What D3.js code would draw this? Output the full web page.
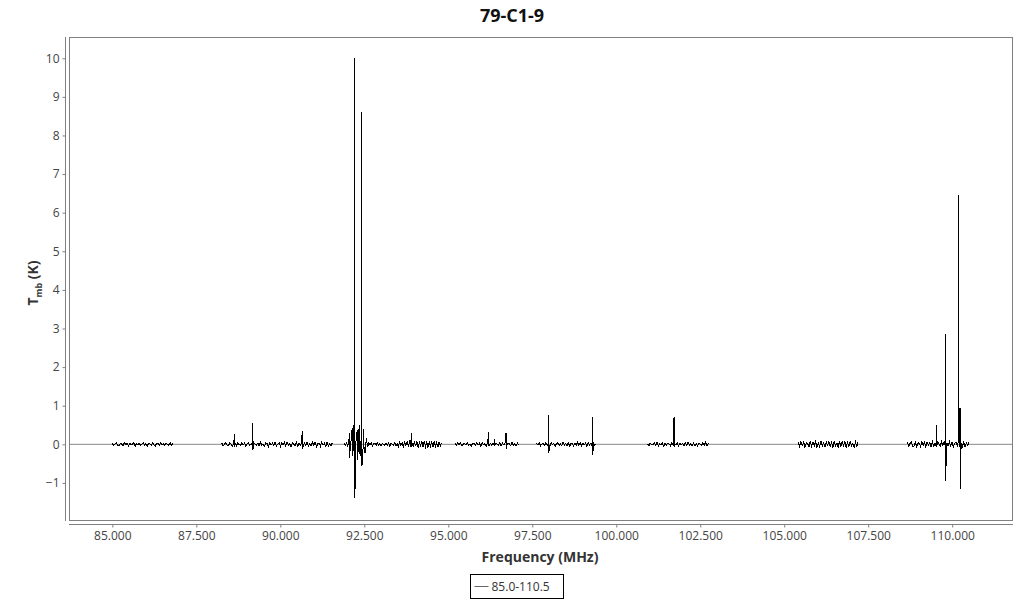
<!DOCTYPE html>
<html>
<head>
<meta charset="utf-8">
<script src="https://cdn.jsdelivr.net/npm/d3@7"></script>
<style>
  body { margin: 0; background: #fff; }
  svg text { font-family: "Open Sans", sans-serif; }
</style>
</head>
<body>
<svg id="chart" width="1024" height="600"></svg>
<script>
// spectrum segments (frequency ranges of each backend window)
const segStart = [85.00, 88.26, 91.90, 95.20, 97.63, 100.93, 105.42, 108.67];
const segEnd   = [86.80, 91.55, 94.80, 97.10, 99.40, 102.74, 107.20, 110.50];

// baseline channel values, one list per segment
const noise = [
  [0.02,-0.03,0.01,0.04,-0.02,-0.04,0.03,0.00,-0.03,0.05,-0.01,0.02,-0.04,0.03,-0.02,0.01,
   0.04,-0.05,0.02,-0.01,0.03,-0.03,0.00,0.04,-0.02,0.02,-0.05,0.03,0.01,-0.03,0.04,-0.02,
   -0.04,0.03,0.02,-0.03,0.05,-0.01,0.02,-0.04,0.03,0.00,-0.02,0.04,-0.03,0.02],
  [0.03,-0.04,0.01,0.05,-0.02,-0.03,0.04,0.00,-0.05,0.03,0.02,-0.04,0.05,-0.01,-0.03,0.04,
   -0.02,0.03,-0.05,0.01,0.04,-0.03,0.02,-0.04,0.05,0.00,-0.02,0.03,-0.04,0.06,-0.03,0.01,
   -0.05,0.04,0.02,-0.06,0.05,-0.02,0.03,-0.04,0.06,-0.05,0.01,0.04,-0.06,0.03,-0.02,0.05,
   -0.04,0.06,-0.03,0.02,-0.06,0.05,0.00,-0.04,0.06,-0.05,0.03,-0.02,0.05,-0.06,0.04,-0.03,
   0.06,-0.05,0.02,-0.04,0.06,-0.03,0.05,-0.06,0.01,0.04,-0.05,0.06,-0.02,0.03,-0.06,0.05,
   -0.04,0.02,-0.03,0.04],
  [0.02,-0.03,0.04,-0.06,0.15,-0.10,0.22,-0.30,0.35,-0.25,0.30,-0.38,0.40,-0.30,0.25,-0.35,
   0.38,-0.20,0.15,-0.08,0.05,-0.02,0.03,-0.04,0.01,0.03,-0.02,0.04,-0.03,0.02,-0.04,0.03,
   0.00,-0.03,0.04,-0.02,0.03,-0.05,0.04,0.01,-0.03,0.05,-0.04,0.02,-0.05,0.06,-0.03,0.04,
   -0.06,0.05,-0.02,0.07,-0.05,0.06,-0.07,0.04,-0.06,0.08,-0.05,0.07,-0.08,0.06,-0.04,0.07,
   -0.07,0.08,-0.06,0.05,-0.08,0.07,-0.05,0.06,-0.07,0.08,-0.06,0.05,-0.07,0.06,-0.05,0.04],
  [0.02,-0.03,0.04,-0.01,0.03,-0.04,0.00,0.03,-0.02,0.04,-0.03,0.01,-0.04,0.03,0.02,-0.03,
   0.04,-0.02,0.03,-0.05,0.04,-0.01,0.02,-0.04,0.05,-0.03,0.03,-0.02,0.04,-0.04,0.02,0.01,
   -0.03,0.05,-0.04,0.03,-0.02,0.04,-0.05,0.03,0.01,-0.04,0.05,-0.03,0.02,-0.04,0.03,-0.02],
  [0.03,-0.02,0.04,-0.04,0.01,0.03,-0.03,0.05,-0.02,0.02,-0.04,0.04,-0.01,0.03,-0.05,0.02,
   0.04,-0.03,0.01,-0.04,0.05,-0.02,0.03,-0.03,0.04,-0.05,0.02,0.01,-0.04,0.03,-0.02,0.05,
   -0.03,0.04,-0.04,0.02,-0.01,0.03,-0.05,0.04,-0.02,0.03,-0.04,0.05,-0.03,0.02],
  [0.02,-0.04,0.03,0.00,-0.02,0.04,-0.03,0.05,-0.04,0.02,-0.01,0.03,-0.05,0.04,-0.02,0.03,
   0.01,-0.04,0.05,-0.03,0.02,-0.02,0.04,-0.05,0.03,-0.01,0.02,-0.04,0.04,-0.03,0.05,-0.02,
   0.01,-0.03,0.04,-0.04,0.02,-0.05,0.03,0.00,-0.03,0.04,-0.02,0.05,-0.04,0.03],
  [0.05,-0.06,0.07,-0.03,0.06,-0.08,0.04,0.02,-0.07,0.08,-0.05,0.06,-0.04,0.07,-0.08,0.03,
   -0.06,0.08,-0.05,0.04,-0.07,0.06,-0.02,0.08,-0.06,0.05,-0.08,0.07,-0.04,0.03,-0.07,0.08,
   -0.05,0.06,-0.03,0.07,-0.08,0.05,-0.06,0.08,-0.04,0.02,-0.07,0.06,-0.05,0.07],
  [0.05,-0.06,0.03,0.07,-0.05,-0.04,0.06,-0.07,0.04,0.02,-0.06,0.07,-0.03,0.05,-0.07,0.06,
   -0.02,0.04,-0.06,0.07,-0.05,0.03,-0.07,0.06,0.01,-0.05,0.07,-0.04,0.06,-0.06,0.04,-0.03,
   0.07,-0.05,0.05,-0.07,0.02,0.06,-0.04,0.07,-0.06,0.03,-0.05,0.06,-0.07,0.04,-0.03,0.05]
];

// emission lines: extra channels (frequency, Tmb) at the spikes
const lineFreq = [88.63, 88.632, 89.18, 89.182, 90.65, 90.652,
  92.05, 92.052, 92.14, 92.142, 92.22, 92.222, 92.30, 92.302, 92.37, 92.372,
  92.43, 92.432, 92.49, 92.492, 93.90, 93.902,
  96.21, 96.212, 96.38, 96.382, 96.72, 96.722,
  97.99, 97.992, 99.30, 99.302, 101.72, 101.722,
  109.54, 109.542, 109.80, 109.802, 110.20, 110.202, 110.235, 110.237];
const lineTmb = [0.27, -0.06, 0.55, -0.15, 0.35, -0.10,
  0.30, -0.35, 0.42, -0.30, 10.0, -1.40, 0.35, -0.40, 0.50, -0.25,
  8.60, -0.55, 0.40, -0.20, 0.28, -0.06,
  0.32, -0.05, 0.15, -0.04, 0.30, -0.12,
  0.75, -0.22, 0.70, -0.27, 0.72, -0.06,
  0.50, -0.03, 2.85, -0.95, 6.45, 0.95, 0.95, -1.15];

const xTicks = [85, 87.5, 90, 92.5, 95, 97.5, 100, 102.5, 105, 107.5, 110];
const yTicks = [-1, 0, 1, 2, 3, 4, 5, 6, 7, 8, 9, 10];
const seriesName = "85.0-110.5";

const svg = d3.select("#chart");
const plot = {left: 69, right: 1012, top: 37, bottom: 520};

let x = d3.scaleLinear().domain([83.71, 111.78]).range([plot.left, plot.right]);
let y = d3.scaleLinear().domain([-1.96, 10.55]).range([plot.bottom, plot.top]);

// title
svg.append("text")
  .attr("x", 512).attr("y", 22)
  .attr("text-anchor", "middle")
  .attr("font-size", 18).attr("font-weight", "bold").attr("fill", "#111")
  .text("79-C1-9");

// plot frame
svg.append("rect")
  .attr("x", plot.left + 0.5).attr("y", plot.top + 0.5)
  .attr("width", plot.right - plot.left).attr("height", plot.bottom - plot.top)
  .attr("fill", "none").attr("stroke", "#808080");

// axes
let yAxis = svg.append("g")
  .attr("transform", "translate(65.5,0)")
  .call(d3.axisLeft(y).tickValues(yTicks).tickSize(3).tickPadding(3).tickFormat(d3.format("d")));
yAxis.select(".domain").attr("d", `M0,${plot.top}V${plot.bottom + 1}`);

let xAxis = svg.append("g")
  .attr("transform", "translate(0,524.5)")
  .call(d3.axisBottom(x).tickValues(xTicks).tickSize(3).tickPadding(4).tickFormat(d3.format(".3f")));
xAxis.select(".domain").attr("d", `M${plot.left},0H${plot.right + 1}`);

[xAxis, yAxis].forEach(function(a){
  a.selectAll(".domain").attr("stroke", "#808080");
  a.selectAll(".tick line").attr("stroke", "#808080");
  a.selectAll(".tick text").attr("fill", "#444").attr("font-size", 12)
    .attr("font-family", "Open Sans, sans-serif");
});

// axis titles
svg.append("text")
  .attr("x", 540).attr("y", 562)
  .attr("text-anchor", "middle")
  .attr("font-size", 14).attr("font-weight", "bold").attr("fill", "#333")
  .text("Frequency (MHz)");

let yl = svg.append("text")
  .attr("transform", "translate(38,283) rotate(-90)")
  .attr("text-anchor", "middle")
  .attr("font-size", 14).attr("font-weight", "bold").attr("fill", "#333");
yl.append("tspan").text("T");
yl.append("tspan").attr("font-size", 9).attr("dy", 4).text("mb");
yl.append("tspan").attr("dy", -4).text(" (K)");

// zero line
svg.append("line")
  .attr("x1", plot.left + 1).attr("x2", plot.right)
  .attr("y1", y(0)).attr("y2", y(0))
  .attr("stroke", "#888").attr("stroke-width", 1);

// spectrum, one path per segment
let lineGen = d3.line().x(d => x(d[0])).y(d => y(d[1]));
let spectrum = svg.append("g").attr("shape-rendering", "crispEdges");
segStart.forEach(function(s, i){
  let e = segEnd[i];
  let n = noise[i].length;
  let pts = noise[i].map((v, j) => [s + (e - s) * j / (n - 1), v]);
  lineFreq.forEach(function(f, k){
    if (f >= s && f <= e) pts.push([f, lineTmb[k]]);
  });
  pts.sort((a, b) => a[0] - b[0]);
  spectrum.append("path")
    .attr("d", lineGen(pts))
    .attr("fill", "none")
    .attr("stroke", "#000")
    .attr("stroke-width", 1);
});

// legend
let lg = svg.append("g").attr("transform", "translate(470.5,574.5)");
lg.append("rect").attr("width", 93).attr("height", 24)
  .attr("fill", "#fff").attr("stroke", "#000");
lg.append("line").attr("x1", 4).attr("x2", 18).attr("y1", 12).attr("y2", 12)
  .attr("stroke", "#666");
lg.append("text").attr("x", 21).attr("y", 16.5)
  .attr("font-size", 12).attr("fill", "#333")
  .text(seriesName);
</script>
</body>
</html>
